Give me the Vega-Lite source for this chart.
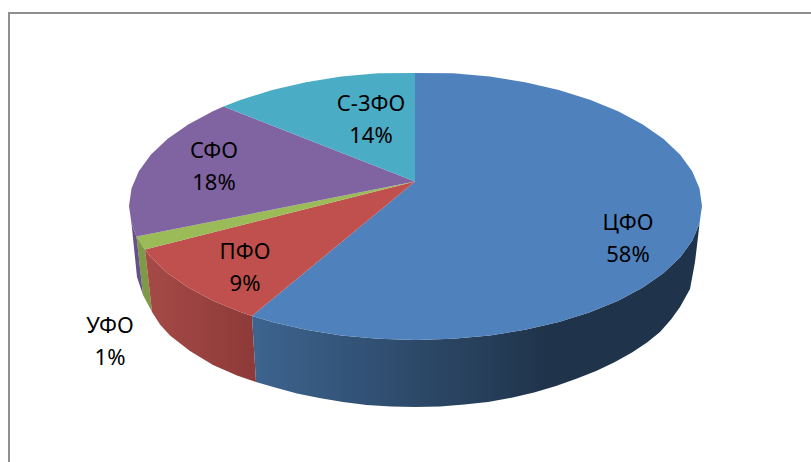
{
"$schema":"https://vega.github.io/schema/vega-lite/v6.json",
"width":811,"height":462,"padding":0,"autosize":{"type":"none"},
"background":"#ffffff",
"view":{"stroke":null},
"config":{"text":{"font":"Noto Sans","fontSize":22,"color":"#000000"}},
"encoding":{
"x":{"field":"x","type":"quantitative","scale":{"domain":[0,811],"nice":false,"zero":false},"axis":null},
"y":{"field":"y","type":"quantitative","scale":{"domain":[462,0],"nice":false,"zero":false},"axis":null},
"order":{"field":"seq","type":"quantitative"}
},
"resolve":{"scale":{"fill":"independent"}},
"datasets":{
"frame":[{"seq":1,"x":9,"y":462},{"seq":2,"x":9,"y":13},{"seq":3,"x":811,"y":13}],
"sideBlue":[{"seq":1,"x":699.5,"y":223.5},{"seq":2,"x":692.2,"y":240.7},{"seq":3,"x":680.2,"y":257.3},{"seq":4,"x":663.6,"y":273},{"seq":5,"x":642.8,"y":287.6},{"seq":6,"x":618.1,"y":300.8},{"seq":7,"x":589.9,"y":312.3},{"seq":8,"x":558.8,"y":322},{"seq":9,"x":525.1,"y":329.8},{"seq":10,"x":489.7,"y":335.4},{"seq":11,"x":452.9,"y":338.8},{"seq":12,"x":415.5,"y":340},{"seq":13,"x":378.1,"y":338.8},{"seq":14,"x":341.3,"y":335.4},{"seq":15,"x":305.9,"y":329.8},{"seq":16,"x":272.2,"y":322},{"seq":17,"x":252,"y":316},{"seq":18,"x":256,"y":382},{"seq":19,"x":275,"y":387.5},{"seq":20,"x":297,"y":393.5},{"seq":21,"x":319.4,"y":398},{"seq":22,"x":343,"y":402},{"seq":23,"x":366.7,"y":405},{"seq":24,"x":391,"y":406.5},{"seq":25,"x":415.5,"y":407},{"seq":26,"x":440,"y":406.5},{"seq":27,"x":464.3,"y":404.6},{"seq":28,"x":488,"y":402},{"seq":29,"x":511.6,"y":397.7},{"seq":30,"x":534,"y":392.5},{"seq":31,"x":556,"y":386},{"seq":32,"x":577,"y":378.5},{"seq":33,"x":596.1,"y":371},{"seq":34,"x":614,"y":362.5},{"seq":35,"x":632,"y":352.5},{"seq":36,"x":647,"y":342.5},{"seq":37,"x":660,"y":332},{"seq":38,"x":671,"y":319.5},{"seq":39,"x":680,"y":307},{"seq":40,"x":690,"y":289},{"seq":41,"x":695,"y":262},{"seq":42,"x":698,"y":237}],
"sideRed":[{"seq":1,"x":252,"y":316},{"seq":2,"x":241.1,"y":312.3},{"seq":3,"x":212.9,"y":300.8},{"seq":4,"x":188.2,"y":287.6},{"seq":5,"x":167.4,"y":273},{"seq":6,"x":150.8,"y":257.3},{"seq":7,"x":145,"y":249.5},{"seq":8,"x":152,"y":312},{"seq":9,"x":160,"y":324.5},{"seq":10,"x":170,"y":335.5},{"seq":11,"x":190,"y":351},{"seq":12,"x":213,"y":365},{"seq":13,"x":237,"y":375.5},{"seq":14,"x":256,"y":382}],
"sideFlat":[
{"region":"УФО","seq":1,"x":136.5,"y":236.5},{"region":"УФО","seq":2,"x":145,"y":249.5},{"region":"УФО","seq":3,"x":152,"y":312},{"region":"УФО","seq":4,"x":143,"y":295},
{"region":"СФО","seq":1,"x":131.5,"y":223.5},{"region":"СФО","seq":2,"x":136.5,"y":236.5},{"region":"СФО","seq":3,"x":143,"y":295},{"region":"СФО","seq":4,"x":137,"y":277}
],
"top":[
{"region":"ЦФО","seq":0,"x":415,"y":181.5},{"region":"ЦФО","seq":1,"x":415,"y":73},{"region":"ЦФО","seq":2,"x":452.9,"y":73.2},{"region":"ЦФО","seq":3,"x":489.7,"y":76.6},{"region":"ЦФО","seq":4,"x":525.1,"y":82.2},{"region":"ЦФО","seq":5,"x":558.8,"y":90},{"region":"ЦФО","seq":6,"x":589.9,"y":99.7},{"region":"ЦФО","seq":7,"x":618.1,"y":111.2},{"region":"ЦФО","seq":8,"x":642.8,"y":124.4},{"region":"ЦФО","seq":9,"x":663.6,"y":139},{"region":"ЦФО","seq":10,"x":680.2,"y":154.7},{"region":"ЦФО","seq":11,"x":692.2,"y":171.3},{"region":"ЦФО","seq":12,"x":699.5,"y":188.5},{"region":"ЦФО","seq":13,"x":702,"y":206},{"region":"ЦФО","seq":14,"x":699.5,"y":223.5},{"region":"ЦФО","seq":15,"x":692.2,"y":240.7},{"region":"ЦФО","seq":16,"x":680.2,"y":257.3},{"region":"ЦФО","seq":17,"x":663.6,"y":273},{"region":"ЦФО","seq":18,"x":642.8,"y":287.6},{"region":"ЦФО","seq":19,"x":618.1,"y":300.8},{"region":"ЦФО","seq":20,"x":589.9,"y":312.3},{"region":"ЦФО","seq":21,"x":558.8,"y":322},{"region":"ЦФО","seq":22,"x":525.1,"y":329.8},{"region":"ЦФО","seq":23,"x":489.7,"y":335.4},{"region":"ЦФО","seq":24,"x":452.9,"y":338.8},{"region":"ЦФО","seq":25,"x":415.5,"y":340},{"region":"ЦФО","seq":26,"x":378.1,"y":338.8},{"region":"ЦФО","seq":27,"x":341.3,"y":335.4},{"region":"ЦФО","seq":28,"x":305.9,"y":329.8},{"region":"ЦФО","seq":29,"x":272.2,"y":322},{"region":"ЦФО","seq":30,"x":252,"y":316},
{"region":"ПФО","seq":0,"x":415,"y":181.5},{"region":"ПФО","seq":1,"x":252,"y":316},{"region":"ПФО","seq":2,"x":241.1,"y":312.3},{"region":"ПФО","seq":3,"x":212.9,"y":300.8},{"region":"ПФО","seq":4,"x":188.2,"y":287.6},{"region":"ПФО","seq":5,"x":167.4,"y":273},{"region":"ПФО","seq":6,"x":150.8,"y":257.3},{"region":"ПФО","seq":7,"x":145,"y":249.5},
{"region":"УФО","seq":0,"x":415,"y":181.5},{"region":"УФО","seq":1,"x":145,"y":249.5},{"region":"УФО","seq":2,"x":140.1,"y":243},{"region":"УФО","seq":3,"x":136.5,"y":236.5},
{"region":"СФО","seq":0,"x":415,"y":181.5},{"region":"СФО","seq":1,"x":136.5,"y":236.5},{"region":"СФО","seq":2,"x":131.5,"y":223.5},{"region":"СФО","seq":3,"x":129,"y":206},{"region":"СФО","seq":4,"x":131.5,"y":188.5},{"region":"СФО","seq":5,"x":138.8,"y":171.3},{"region":"СФО","seq":6,"x":150.8,"y":154.7},{"region":"СФО","seq":7,"x":167.4,"y":139},{"region":"СФО","seq":8,"x":188.2,"y":124.4},{"region":"СФО","seq":9,"x":212.9,"y":111.2},{"region":"СФО","seq":10,"x":223.5,"y":106.5},
{"region":"С-3ФО","seq":0,"x":415,"y":181.5},{"region":"С-3ФО","seq":1,"x":223.5,"y":106.5},{"region":"С-3ФО","seq":2,"x":241.1,"y":99.7},{"region":"С-3ФО","seq":3,"x":272.2,"y":90},{"region":"С-3ФО","seq":4,"x":305.9,"y":82.2},{"region":"С-3ФО","seq":5,"x":341.3,"y":76.6},{"region":"С-3ФО","seq":6,"x":378.1,"y":73.2},{"region":"С-3ФО","seq":7,"x":415,"y":73}
],
"labels":[
{"region":"ЦФО","share":0.58,"x":628,"y":238.5},
{"region":"ПФО","share":0.09,"x":245,"y":267.5},
{"region":"УФО","share":0.01,"x":110,"y":341.5},
{"region":"СФО","share":0.18,"x":214,"y":167},
{"region":"С-3ФО","share":0.14,"x":371,"y":120}
]
},
"layer":[
{"data":{"name":"frame"},"mark":{"type":"line","stroke":"#8f8f8f","strokeWidth":2}},
{"data":{"name":"sideFlat"},"mark":{"type":"line","strokeWidth":0},
 "encoding":{"detail":{"field":"region"},
 "fill":{"field":"region","type":"nominal","legend":null,"scale":{"domain":["УФО","СФО"],"range":["#7f9a47","#66508a"]}}}},
{"data":{"name":"sideRed"},"mark":{"type":"line","strokeWidth":0,"fill":{"x1":0,"y1":0,"x2":1,"y2":0,"gradient":"linear","stops":[{"offset":0,"color":"#a54a47"},{"offset":1,"color":"#8d3a38"}]}}},
{"data":{"name":"sideBlue"},"mark":{"type":"line","strokeWidth":0,"fill":{"x1":0,"y1":0,"x2":1,"y2":0,"gradient":"linear","stops":[{"offset":0,"color":"#3d648f"},{"offset":0.67,"color":"#1f334a"},{"offset":1,"color":"#1f334a"}]}}},
{"data":{"name":"top"},"mark":{"type":"line","strokeWidth":0},
 "encoding":{"detail":{"field":"region"},
 "fill":{"field":"region","type":"nominal","legend":null,"scale":{"domain":["ЦФО","ПФО","УФО","СФО","С-3ФО"],"range":["#4f81bd","#c0504d","#9bbb59","#8064a2","#4bacc6"]}}}},
{"data":{"name":"labels"},"mark":{"type":"text","dy":-16,"align":"center","baseline":"middle"},"encoding":{"text":{"field":"region"},"order":null}},
{"data":{"name":"labels"},"mark":{"type":"text","dy":16,"align":"center","baseline":"middle"},"encoding":{"text":{"field":"share","type":"quantitative","format":".0%"},"order":null}}
]
}
